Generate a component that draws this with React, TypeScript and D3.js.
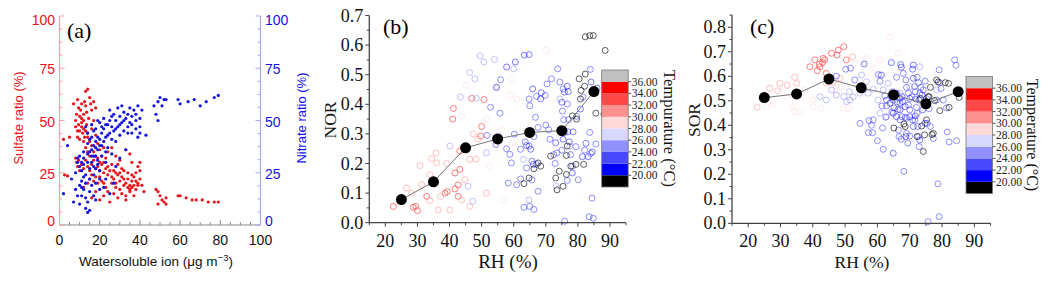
import React from 'react';
import * as d3 from 'd3';

// (a) water soluble ion vs sulfate / nitrate ratio
const sulfateRatio: [number, number][] = [
  [2, 41], [2.5, 24], [4, 23.5], [5, 42], [7, 58], [9, 60], [8, 50], [8.5, 53], [9, 45], [9.5, 48], [10, 52], [10, 41],
  [10.5, 55], [11, 49], [11, 47], [11.5, 44], [12, 53], [12, 50], [12, 46], [12.5, 42], [13, 64], [13, 57], [13.5, 54],
  [13.5, 48], [14, 65], [14, 44], [14.5, 51], [15, 61], [15, 40], [15.5, 58], [16, 55], [16, 38], [17, 59], [17, 35],
  [18, 56], [18, 33], [19, 32], [20, 30], [8, 32], [8.5, 30], [9, 28], [9.5, 31], [10, 26], [11, 29], [12, 27], [13, 31],
  [14, 35], [15, 33], [16, 29], [17, 31], [18, 27], [19, 28], [20, 26], [21, 29], [22, 25], [22, 30], [23, 27], [24, 24],
  [24, 28], [25, 26], [26, 23], [26, 29], [27, 22], [28, 25], [28, 20], [29, 24], [30, 21], [30, 17], [31, 23], [31, 15],
  [32, 19], [32, 26], [33, 20], [33, 14], [34, 18], [34, 22], [35, 19], [35, 16], [36, 21], [36, 18], [37, 19], [37, 23],
  [38, 17], [38, 25], [39, 28], [39, 20], [40, 30], [40, 26], [40, 22], [41, 19], [42, 16], [12, 18], [14, 20], [15, 22],
  [16, 13], [18, 16], [20, 12], [22, 14], [24, 16], [25, 11], [27, 15], [29, 13], [33, 12], [35, 17], [37, 14], [22, 37],
  [24, 35], [26, 37], [28, 33], [30, 31], [33, 36], [35, 34], [36, 30], [9, 42], [10, 45], [11, 51], [12, 40], [13, 45],
  [14, 42], [8, 47], [9.5, 56], [11, 58], [12.5, 59], [16, 46], [17, 50], [18, 43], [19, 39], [20, 36], [21, 33], [23, 32],
  [13, 37], [14, 28], [15, 26], [16, 24], [17, 21], [18, 23], [19, 20], [20, 23], [21, 21], [22, 20], [23, 18], [26, 20],
  [27, 26], [29, 29], [31, 27], [32, 22], [34, 25], [36, 24], [38, 21], [39, 19], [30, 25], [28, 18],
  [48, 17], [49, 16], [49, 10], [50, 14], [51, 12], [52, 11], [53, 10], [53, 13], [59, 14], [60, 14], [63, 13], [66, 12],
  [68, 12], [71, 12], [74, 11], [77, 11], [79, 11],
];

const nitrateRatio: [number, number][] = [
  [2, 15], [4, 38], [6, 22], [7, 11], [8, 17], [8, 25], [9, 30], [9, 32], [9, 14], [10, 19], [10, 28], [10, 33], [11, 21],
  [11, 18], [11, 26], [11, 30], [12, 17], [12, 23], [12, 29], [12, 35], [13, 8], [13, 13], [13, 20], [13, 24], [14, 6],
  [14, 11], [14, 30], [15, 7], [15, 16], [15, 22], [15, 27], [16, 19], [16, 33], [16, 36], [17, 14], [17, 24], [17, 28],
  [17, 38], [18, 20], [18, 33], [18, 40], [19, 31], [19, 36], [19, 42], [20, 17], [20, 26], [20, 38], [21, 33], [21, 44],
  [22, 40], [22, 46], [23, 22], [23, 35], [23, 42], [24, 48], [24, 37], [25, 44], [25, 50], [25, 55], [26, 41], [26, 47],
  [27, 53], [27, 45], [28, 40], [28, 50], [29, 47], [29, 56], [30, 43], [30, 52], [31, 49], [31, 57], [32, 45], [32, 54],
  [33, 51], [33, 36], [34, 47], [34, 53], [35, 49], [35, 56], [36, 44], [36, 52], [37, 55], [38, 46], [38, 50], [39, 42],
  [39, 57], [40, 47], [40, 44], [41, 55], [43, 43], [13, 47], [14, 44], [16, 48], [18, 46], [20, 49], [22, 51], [24, 43],
  [15, 41], [17, 45], [19, 50], [21, 38], [23, 30], [26, 34], [28, 28], [30, 32], [20, 22], [22, 18], [18, 12], [25, 15],
  [27, 20], [10, 10], [11, 14], [14, 39], [16, 42], [18, 37], [20, 41], [21, 47], [23, 48], [26, 52], [28, 46], [30, 48],
  [32, 50], [34, 44], [36, 48], [38, 53], [40, 51], [12, 32], [14, 34], [16, 30], [18, 27], [15, 35], [17, 33], [19, 29],
  [47, 57], [48, 53], [49, 50], [49, 59], [50, 61], [51, 57], [52, 60], [53, 60], [59, 60], [60, 58], [64, 59], [67, 60],
  [70, 57], [73, 59], [77, 61], [79, 62],
];

// (b), (c) RH bin means
const rhBins = [25, 35, 45, 55, 65, 75, 85];
const norMeans = [0.078, 0.138, 0.253, 0.283, 0.305, 0.311, 0.443];
const sorMeans = [0.513, 0.528, 0.589, 0.553, 0.524, 0.488, 0.537];

// [RH %, NOR, temperature °C]
const norPoints: [number, number, number][] = [
  [22.5, 0.055, 33], [28.7, 0.052, 33], [30, 0.041, 33], [29.5, 0.055, 33], [32.9, 0.089, 33], [38.6, 0.1, 33],
  [39.3, 0.105, 33], [41.7, 0.114, 33], [42.7, 0.089, 33], [42.7, 0.128, 33], [41.7, 0.168, 33], [43.2, 0.18, 33],
  [43.2, 0.242, 33], [41, 0.35, 33], [41.2, 0.386, 33], [46.9, 0.42, 33], [50.7, 0.416, 33], [50, 0.325, 33],
  [49.7, 0.293, 33], [48.2, 0.214, 31], [47.4, 0.3, 31],
  [51.5, 0.1, 31], [26.6, 0.117, 31], [28.2, 0.1, 31], [31.3, 0.128, 31], [30.8, 0.193, 31], [34.4, 0.216, 31],
  [35.8, 0.236, 31], [36, 0.202, 31], [33.9, 0.162, 31], [33.9, 0.075, 31], [36.5, 0.043, 31], [37.2, 0.089, 31],
  [40.1, 0.043, 31], [43.8, 0.077, 31], [44.8, 0.145, 31], [46.3, 0.055, 31], [39.1, 0.2, 31], [46.3, 0.214, 31],
  [48.9, 0.282, 31], [51.5, 0.35, 29], [55.7, 0.259, 29], [56.2, 0.316, 29], [59.3, 0.486, 29], [60.9, 0.418, 29],
  [59.8, 0.27, 29], [43.8, 0.361, 29], [45.1, 0.464, 29], [58.8, 0.43, 29], [52.6, 0.19, 29], [60.9, 0.14, 29],
  [70.2, 0.583, 29], [56.7, 0.077, 29],
  [49.5, 0.564, 25], [50.7, 0.543, 25], [54, 0.551, 25], [46.3, 0.507, 25], [47.9, 0.486, 25], [48.4, 0.42, 25],
  [43.4, 0.424, 25], [54.5, 0.455, 25], [60, 0.52, 25], [45.3, 0.259, 25], [45.8, 0.123, 25], [47.2, 0.072, 25],
  [40.1, 0.259, 25], [51.5, 0.236, 25], [55.2, 0.293, 25], [63, 0.214, 25], [64.8, 0.077, 25], [73.3, 0.123, 25],
  [77.5, 0.259, 25], [74.4, 0.418, 25],
  [55.9, 0.483, 23], [54.7, 0.458, 23], [52.8, 0.39, 23], [55.7, 0.37, 23], [51.7, 0.295, 23], [54.5, 0.264, 23],
  [57.8, 0.25, 23], [58.8, 0.231, 23], [60.2, 0.299, 23], [59.3, 0.202, 23], [62.1, 0.248, 23], [63.6, 0.273, 23],
  [64.8, 0.259, 23], [65.7, 0.208, 23], [66.3, 0.291, 23], [67.6, 0.322, 23], [66.8, 0.356, 23], [65, 0.395, 23],
  [64.8, 0.418, 23], [67.1, 0.427, 23], [69.8, 0.43, 23], [70.4, 0.469, 23], [71.8, 0.486, 23], [70, 0.33, 23],
  [70.9, 0.314, 23], [71.3, 0.282, 23], [72.5, 0.23, 23], [73.5, 0.236, 23], [72.9, 0.2, 23], [75, 0.245, 23],
  [76, 0.305, 23], [75.6, 0.348, 23], [75.2, 0.377, 23], [76.7, 0.401, 23], [77.1, 0.348, 23], [76.9, 0.307, 23],
  [77.7, 0.23, 23], [78.3, 0.191, 23], [79.4, 0.257, 23], [79.6, 0.359, 23], [81.6, 0.424, 23], [74.4, 0.475, 23],
  [73.7, 0.52, 23], [75.4, 0.452, 23], [67.1, 0.197, 23], [64, 0.185, 23], [65.7, 0.145, 23], [67.6, 0.106, 23],
  [63.2, 0.052, 23], [65, 0.055, 23], [66.3, 0.045, 23], [76.7, 0.143, 23], [80.1, 0.145, 23], [82.1, 0.245, 23],
  [84, 0.234, 23], [85.6, 0.266, 23], [84.8, 0.441, 23], [83.9, 0.518, 23], [83.7, 0.305, 23], [84.4, 0.083, 23],
  [75.9, 0.005, 23], [84.8, 0.015, 23], [83.5, 0.02, 23], [58.3, 0.134, 23], [60.9, 0.128, 23], [62.2, 0.148, 23],
  [63.3, 0.566, 21], [64.8, 0.568, 21], [57.8, 0.526, 21], [60.5, 0.543, 21], [68.4, 0.418, 21], [65.9, 0.452, 21],
  [68.6, 0.439, 21], [76.7, 0.461, 21], [80.8, 0.384, 21], [64, 0.261, 21], [65.3, 0.248, 21], [66.1, 0.197, 21],
  [73.1, 0.27, 21], [75.4, 0.282, 21], [77.3, 0.273, 21], [78.5, 0.307, 21], [78.3, 0.168, 21], [82.5, 0.268, 21],
  [81.4, 0.223, 21], [83.2, 0.223, 21], [84.5, 0.239, 21], [77, 0.443, 21], [75, 0.407, 21], [75.8, 0.441, 21],
  [86, 0.455, 21], [84.1, 0.475, 21],
  [63.2, 0.132, 19], [64.8, 0.151, 19], [67.6, 0.202, 19], [68.4, 0.191, 19], [66.3, 0.182, 19], [73.1, 0.151, 19],
  [74.2, 0.174, 19], [73.5, 0.111, 19], [75.4, 0.123, 19], [76.4, 0.163, 19], [77.8, 0.191, 19], [79.4, 0.197, 19],
  [76.4, 0.227, 19], [78.3, 0.361, 19], [80.8, 0.418, 19], [81, 0.447, 19], [80.4, 0.486, 19], [82.1, 0.461, 19],
  [82.3, 0.502, 19], [84.8, 0.632, 19], [83.7, 0.632, 19], [82.3, 0.628, 19], [88.5, 0.582, 19], [88.3, 0.423, 19],
  [85.6, 0.37, 19], [88.1, 0.367, 19], [81.8, 0.197, 19], [76.7, 0.259, 19], [79.6, 0.35, 19], [71.5, 0.225, 19],
];

// [RH %, SOR, temperature °C]
const sorPoints: [number, number, number][] = [
  [39.1, 0.639, 33], [41.4, 0.623, 33], [42, 0.65, 33], [43, 0.656, 33], [43.2, 0.673, 33], [43.7, 0.667, 33],
  [44.2, 0.612, 33], [45.8, 0.694, 33], [47.5, 0.687, 33], [47.9, 0.707, 33], [49.6, 0.721, 33], [50.4, 0.667, 33],
  [42.2, 0.639, 33], [40.6, 0.667, 33],
  [29.1, 0.541, 31], [29.8, 0.571, 31], [34.4, 0.596, 31], [26.7, 0.551, 31], [32.1, 0.563, 31], [35, 0.571, 31],
  [46.3, 0.574, 31], [48.4, 0.592, 31], [52.3, 0.68, 31], [44.2, 0.571, 31], [22.8, 0.473, 31],
  [27.7, 0.487, 29], [33.7, 0.476, 29], [34.4, 0.456, 29], [36.2, 0.456, 29], [37.5, 0.544, 29], [39.9, 0.503, 29],
  [40.1, 0.476, 29], [42.6, 0.469, 29], [47.3, 0.561, 29], [48.8, 0.555, 29], [47.1, 0.541, 29], [51.5, 0.612, 29],
  [49.4, 0.469, 29], [51, 0.469, 29], [63.8, 0.759, 29], [56.6, 0.673, 29], [53.5, 0.653, 29], [31.9, 0.517, 29],
  [25.7, 0.476, 29], [58.7, 0.633, 29], [66.4, 0.694, 29], [60.8, 0.667, 29],
  [47.3, 0.524, 25], [49.6, 0.517, 25], [51.5, 0.503, 25], [52.5, 0.517, 25], [54.6, 0.531, 25], [50.4, 0.497, 25],
  [51.3, 0.537, 25], [56.6, 0.578, 25], [55.4, 0.544, 25], [58.7, 0.547, 25], [55.1, 0.561, 25], [57.1, 0.531, 25],
  [60.2, 0.503, 25], [61.8, 0.544, 25], [63.3, 0.571, 25], [67, 0.531, 25], [70, 0.558, 25], [62.8, 0.435, 25],
  [44.2, 0.503, 25], [45.8, 0.544, 25], [42.2, 0.517, 25], [60.8, 0.449, 25], [55.1, 0.605, 25], [73.1, 0.639, 25],
  [78.3, 0.544, 25],
  [47.3, 0.601, 23], [50.2, 0.629, 23], [51.7, 0.633, 23], [53, 0.585, 23], [54.6, 0.408, 23], [57.4, 0.419, 23],
  [58.2, 0.4, 23], [58.5, 0.37, 23], [58.7, 0.422, 23], [60.3, 0.607, 23], [60.8, 0.58, 23], [61.6, 0.389, 23],
  [62.6, 0.433, 23], [62.8, 0.479, 23], [64.5, 0.454, 23], [64.7, 0.537, 23], [65.1, 0.471, 23], [65.9, 0.596, 23],
  [66.1, 0.495, 23], [66.4, 0.465, 23], [67, 0.491, 23], [68, 0.612, 23], [68.8, 0.585, 23], [69, 0.555, 23],
  [69.6, 0.531, 23], [69.6, 0.483, 23], [70, 0.463, 23], [70.9, 0.422, 23], [69, 0.429, 23], [67.6, 0.435, 23],
  [68.6, 0.433, 23], [69, 0.367, 23], [69.4, 0.327, 23], [70, 0.356, 23], [70.7, 0.517, 23], [71.5, 0.558, 23],
  [71.7, 0.537, 23], [71.9, 0.507, 23], [72.1, 0.473, 23], [72.3, 0.449, 23], [72.5, 0.395, 23], [72.7, 0.354, 23],
  [72.9, 0.313, 23], [71.6, 0.422, 23], [72.3, 0.596, 23], [72.7, 0.574, 23], [73.1, 0.531, 23], [73.5, 0.555, 23],
  [74.2, 0.544, 23], [74.8, 0.58, 23], [75.2, 0.509, 23], [75.6, 0.487, 23], [66.5, 0.381, 23], [66.7, 0.354, 23],
  [61.8, 0.302, 23], [60, 0.337, 23], [61.4, 0.479, 23], [62.3, 0.52, 23], [67, 0.422, 23], [67.4, 0.343, 23],
  [75.4, 0.408, 23], [76.4, 0.395, 23], [77.3, 0.346, 23], [79.1, 0.626, 23], [79.3, 0.574, 23], [79.7, 0.55, 23],
  [80.4, 0.503, 23], [81.4, 0.471, 23], [81.6, 0.373, 23], [82.2, 0.332, 23], [84.5, 0.337, 23], [83.9, 0.667, 23],
  [84.3, 0.645, 23], [68.2, 0.212, 23], [78.7, 0.161, 23], [79.1, 0.027, 23], [75.7, 0.007, 23], [57.2, 0.37, 23],
  [76, 0.468, 23], [78.3, 0.503, 23],
  [55.9, 0.65, 21], [61.2, 0.605, 21], [64.3, 0.656, 21], [67.2, 0.648, 21], [67.4, 0.637, 21], [71.1, 0.646, 21],
  [70.9, 0.629, 21], [62.8, 0.503, 21], [63.9, 0.49, 21], [64.9, 0.449, 21], [65.9, 0.435, 21], [67, 0.463, 21],
  [67.8, 0.497, 21], [68.6, 0.476, 21], [70, 0.435, 21], [71.1, 0.395, 21], [71.7, 0.438, 21], [72.9, 0.503, 21],
  [73.8, 0.524, 21], [74, 0.463, 21], [74.6, 0.487, 21], [64.9, 0.503, 21], [65.9, 0.531, 21], [67.6, 0.517, 21],
  [70, 0.51, 21], [71.1, 0.592, 21], [64.9, 0.286, 21], [67, 0.51, 21], [68.8, 0.354, 21], [73.1, 0.34, 21],
  [74.7, 0.408, 21],
  [65.1, 0.389, 19], [68.2, 0.405, 19], [68.6, 0.395, 19], [72.3, 0.354, 19], [73.3, 0.509, 19], [73.7, 0.397, 19],
  [74.2, 0.293, 19], [74.6, 0.361, 19], [76, 0.517, 19], [76.4, 0.555, 19], [76.9, 0.362, 19], [77.7, 0.501, 19],
  [78.3, 0.585, 19], [78.8, 0.577, 19], [79.3, 0.46, 19], [81, 0.574, 19], [82, 0.571, 19], [82.2, 0.473, 19],
  [85.3, 0.514, 19], [77.3, 0.367, 19], [75.2, 0.422, 19], [75.7, 0.517, 19],
];

const tempTicks = [20, 22, 24, 26, 28, 30, 32, 34, 36];
const tempColors = ['#000000', '#0000ff', '#4848ff', '#9090ff', '#d8d8ff', '#ffd8d8', '#ff9090', '#ff4848', '#ff0000', '#c0c0c0'];

const tempColor = d3.scaleThreshold<number, string>().domain(tempTicks).range(tempColors);
// how strongly each temperature band shows up in the scatter
const tempOpacity = d3.scaleThreshold<number, number>().domain(tempTicks)
  .range([0.62, 0.5, 0.6, 0.55, 0.5, 0.5, 0.55, 0.7, 0.75, 0.5]);

const SANS = "'Liberation Sans', Arial, Helvetica, sans-serif";
const SERIF = "'Liberation Serif', 'Times New Roman', serif";

const PanelA = () => {
  const x = d3.scaleLinear().domain([0, 100]).range([59.5, 260.5]);
  const y = d3.scaleLinear().domain([0, 100]).range([225, 16]);
  const red = '#e8141c';
  const blue = '#1414e0';
  const yMajor = [0, 25, 50, 75, 100];
  const yMinor = d3.range(0, 100.01, 6.25);
  const xMajor = d3.range(0, 101, 20);
  const xMinor = d3.range(0, 101, 5);
  // IDL nudges the end labels inward
  const yLabelPos = (v: number) => (v === 0 ? y(v) - 4 : v === 100 ? y(v) + 4 : y(v) + 1);

  return (
    <g fontFamily={SANS}>
      {sulfateRatio.map((d, i) => (
        <circle key={'s' + i} cx={x(d[0])} cy={y(d[1])} r={1.6} fill={red} />
      ))}
      {nitrateRatio.map((d, i) => (
        <circle key={'n' + i} cx={x(d[0])} cy={y(d[1])} r={1.6} fill={blue} />
      ))}

      {/* bottom axis */}
      <line x1={x(0)} x2={x(100)} y1={y(0)} y2={y(0)} stroke="#888" strokeWidth={1} />
      {xMinor.map((v) => (
        <line key={'xm' + v} x1={x(v)} x2={x(v)} y1={y(0)} y2={y(0) - (v % 20 === 0 ? 5 : 3)} stroke="#888" />
      ))}
      {xMajor.map((v) => (
        <text key={'xl' + v} x={x(v)} y={245} textAnchor="middle" fontSize={14} fill="#111">{v}</text>
      ))}

      {/* left axis (sulfate) */}
      <line x1={x(0)} x2={x(0)} y1={y(0)} y2={y(100)} stroke="#f3a3a3" strokeWidth={1.2} />
      {yMinor.map((v) => (
        <line key={'lm' + v} x1={x(0)} x2={x(0) + (v % 25 === 0 ? 5 : 3)} y1={y(v)} y2={y(v)} stroke="#f3a3a3" />
      ))}
      {yMajor.map((v) => (
        <text key={'ll' + v} x={55} y={yLabelPos(v)} textAnchor="end" dominantBaseline="central" fontSize={14} fill={red}>{v}</text>
      ))}

      {/* right axis (nitrate) */}
      <line x1={x(100)} x2={x(100)} y1={y(0)} y2={y(100)} stroke="#a8a8f0" strokeWidth={1.2} />
      {yMinor.map((v) => (
        <line key={'rm' + v} x1={x(100)} x2={x(100) - (v % 25 === 0 ? 5 : 3)} y1={y(v)} y2={y(v)} stroke="#a8a8f0" />
      ))}
      {yMajor.map((v) => (
        <text key={'rl' + v} x={265} y={yLabelPos(v)} textAnchor="start" dominantBaseline="central" fontSize={14} fill={blue}>{v}</text>
      ))}

      <text transform="translate(18,118) rotate(-90)" textAnchor="middle" dominantBaseline="central" fontSize={13} fill={red}>
        Sulfate ratio (%)
      </text>
      <text transform="translate(301,118) rotate(-90)" textAnchor="middle" dominantBaseline="central" fontSize={13} fill={blue}>
        Nitrate ratio (%)
      </text>
      <text x={156} y={266} textAnchor="middle" fontSize={13.5} fill="#111">
        Watersoluble ion (μg m<tspan dy={-5} fontSize={9.5}>−3</tspan><tspan dy={5}>)</tspan>
      </text>
      <text x={67} y={38} fontFamily={SERIF} fontSize={22} fill="#000">(a)</text>
    </g>
  );
};

type ScatterProps = {
  points: [number, number, number][];
  means: number[];
  xRange: [number, number];
  yMax: number;
  yRange: [number, number];
  yTop: number;
  yLabel: string;
  yLabelX: number;
  tag: string;
  tagX: number;
  rhX: number;
  rhSize: number;
  barX: number;
  barY: number;
  title: string;
  titleX: number;
  titleSize: number;
};

const ScatterPanel = (p: ScatterProps) => {
  const x = d3.scaleLinear().domain([15, 95]).range(p.xRange);
  const y = d3.scaleLinear().domain([0, p.yMax]).range(p.yRange);
  const x0 = p.xRange[0];
  const y0 = p.yRange[0];
  const xMajor = d3.range(20, 91, 10);
  const xMinor = d3.range(15, 96, 5);
  const yMajor = d3.range(0, p.yMax + 0.001, 0.1);
  const yMinor = d3.range(0, p.yTop + 0.001, 0.05);
  const fmt = d3.format('.1f');
  const axisColor = '#444';

  const line = d3.line<number>().x((_, i) => x(rhBins[i])).y((d) => y(d));

  // colorbar
  const bandH = 11.7;
  const barW = 26.5;
  const cb = d3.scaleLinear().domain([18, 38]).range([p.barY + bandH * 10, p.barY]);
  const bands = tempColors.map((c, i) => ({ c, lo: 18 + i * 2, hi: 20 + i * 2 }));

  return (
    <g fontFamily={SERIF}>
      {p.points.map((d, i) => (
        <circle key={i} cx={x(d[0])} cy={y(d[1])} r={3} fill="none" stroke={tempColor(d[2])}
          strokeOpacity={tempOpacity(d[2])} strokeWidth={1} />
      ))}

      <path d={line(p.means) || ''} fill="none" stroke="#777" strokeWidth={1} />
      {p.means.map((m, i) => (
        <circle key={'m' + i} cx={x(rhBins[i])} cy={y(m)} r={5.5} fill="#000" />
      ))}

      {/* axes */}
      <line x1={x0} x2={p.xRange[1]} y1={y0} y2={y0} stroke={axisColor} strokeWidth={1.3} />
      {xMinor.map((v) => (
        <line key={'xm' + v} x1={x(v)} x2={x(v)} y1={y0} y2={y0 + (v % 10 === 0 ? 4 : 2.5)} stroke={axisColor} />
      ))}
      {xMajor.map((v) => (
        <text key={'xl' + v} x={x(v)} y={y0 + 24} textAnchor="middle" fontSize={18} fill="#111">{v}</text>
      ))}
      <line x1={x0} x2={x0} y1={y0} y2={y(p.yTop)} stroke={axisColor} strokeWidth={1.3} />
      {yMinor.map((v, i) => (
        <line key={'ym' + i} x1={x0} x2={x0 - (i % 2 === 0 ? 4 : 2.5)} y1={y(v)} y2={y(v)} stroke={axisColor} />
      ))}
      {yMajor.map((v, i) => (
        <text key={'yl' + i} x={x0 - 6} y={y(v)} textAnchor="end" dominantBaseline="central" fontSize={18} fill="#111">{fmt(v)}</text>
      ))}

      <text transform={`translate(${p.yLabelX},120) rotate(-90)`} textAnchor="middle" dominantBaseline="central" fontSize={17.5} fill="#111">
        {p.yLabel}
      </text>
      <text x={p.rhX} y={268} textAnchor="middle" fontSize={p.rhSize} fill="#111">RH (%)</text>
      <text x={p.tagX} y={34} fontSize={22} fill="#000">{p.tag}</text>

      {/* temperature colorbar */}
      {bands.map((b, i) => (
        <rect key={'b' + i} x={p.barX} y={cb(b.hi)} width={barW} height={cb(b.lo) - cb(b.hi)} fill={b.c} />
      ))}
      <rect x={p.barX} y={p.barY} width={barW} height={bandH * 10} fill="none" stroke="#777" strokeWidth={0.8} />
      {tempTicks.map((t) => (
        <g key={'t' + t}>
          <line x1={p.barX + barW} x2={p.barX + barW + 3} y1={cb(t)} y2={cb(t)} stroke="#555" />
          <text x={p.barX + barW + 3.5} y={cb(t)} dominantBaseline="central" fontSize={11.5} fill="#222">{d3.format('.2f')(t)}</text>
        </g>
      ))}
      <text transform={`translate(${p.titleX},${p.barY + bandH * 5}) rotate(90)`} textAnchor="middle" dominantBaseline="central"
        fontSize={p.titleSize} fill="#111">
        {p.title}
      </text>
    </g>
  );
};

const App = () => {
  return (
    <svg width={1050} height={282} style={{ position: 'absolute', left: 0, top: 0, background: '#fff' }}>
      <rect width={1050} height={282} fill="#fff" />
      <PanelA />
      <ScatterPanel points={norPoints} means={norMeans} xRange={[369.3, 626]} yMax={0.7} yRange={[222.7, 15.5]} yTop={0.7}
        yLabel="NOR" yLabelX={330} tag="(b)" tagX={383} rhX={508} rhSize={19}
        barX={601.7} barY={70} title="Tempurature (°C)" titleX={669.5} titleSize={16.5} />
      <ScatterPanel points={sorPoints} means={sorMeans} xRange={[732, 990.5]} yMax={0.8} yRange={[223.3, 27.3]} yTop={0.85}
        yLabel="SOR" yLabelX={694} tag="(c)" tagX={750} rhX={862} rhSize={17.5}
        barX={966} barY={76.5} title="Temperature (°C)" titleX={1032.5} titleSize={16} />
    </svg>
  );
};

export default App;
